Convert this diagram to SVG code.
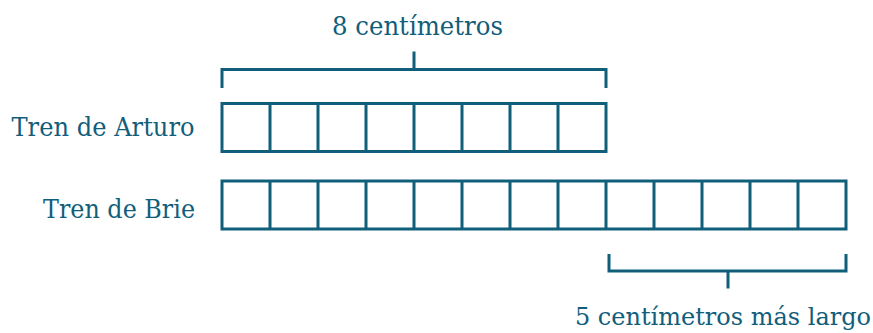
<svg xmlns="http://www.w3.org/2000/svg" width="873" height="333" viewBox="0 0 873 333">
<style>
.c{fill:none;stroke:#115e7b;stroke-width:3}
.b{fill:none;stroke:#115e7b;stroke-width:3;stroke-linecap:butt}
text{font-family:"DejaVu Serif","Liberation Serif",serif;font-size:26px;fill:#115e7b}
text.s{font-size:24px}
</style>
<rect width="873" height="333" fill="#fff"/>
<g id="label-top"><text x="332" y="35" textLength="171" lengthAdjust="spacingAndGlyphs">8 centímetros</text></g>
<g id="label-arturo"><text x="11.5" y="135.5" textLength="183" lengthAdjust="spacingAndGlyphs">Tren de Arturo</text></g>
<g id="label-brie"><text x="43" y="217.5" textLength="152" lengthAdjust="spacingAndGlyphs">Tren de Brie</text></g>
<g id="label-bottom"><text class="s" x="871" y="325" text-anchor="end">5 centímetros más largo</text></g>
<g id="tren-arturo">
<rect class="c" x="222" y="103.5" width="384" height="48"/>
<path class="c" d="M270 103.5V151.5M318 103.5V151.5M366 103.5V151.5M414 103.5V151.5M462 103.5V151.5M510 103.5V151.5M558 103.5V151.5"/>
</g>
<g id="tren-brie">
<rect class="c" x="222" y="181" width="624" height="48"/>
<path class="c" d="M270 181V229M318 181V229M366 181V229M414 181V229M462 181V229M510 181V229M558 181V229M606 181V229M654 181V229M702 181V229M750 181V229M798 181V229"/>
</g>
<g id="connectors">
<path class="b" d="M222 88V69.5H606V88M414 69.5V51.5"/>
<path class="b" d="M609 254V271H846V254M728 271V288.5"/>
</g>
</svg>
